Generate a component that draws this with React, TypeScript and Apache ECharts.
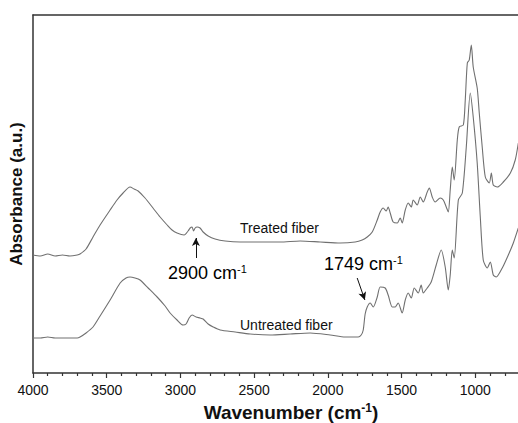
import React, { useEffect, useRef } from "react";
import * as echarts from "echarts";

// Wavenumber (cm-1) and absorbance (a.u.)
const treatedWn = [4000,3950,3900,3850,3800,3750,3700,3681,3640,3593,3545,3477,3430,3389,3342,3314,3287,3240,3186,3138,3090,3057,3023,2975,2948,2934,2921,2911,2900,2887,2867,2846,2812,2765,2697,2595,2459,2324,2188,2052,1916,1815,1767,1733,1699,1665,1645,1625,1604,1591,1577,1557,1529,1509,1496,1475,1455,1434,1421,1394,1373,1353,1326,1312,1292,1272,1238,1217,1197,1183,1170,1156,1143,1122,1109,1081,1068,1054,1041,1027,1014,987,973,953,932,905,891,878,851,810,762,729,708];
const treatedAbs = [118,117,119,117,118,117,118,119,124,136,148,163,173,180,186,184,182,175,165,156,148,143,140,138,142,145,146,142,145,146,145,141,137,134,132,131,131,131,132,131,130,131,133,136,141,153,161,165,162,166,160,151,150,155,150,163,170,166,173,168,176,171,181,185,176,171,175,173,166,161,183,206,193,233,246,248,273,310,313,328,306,285,260,226,196,190,200,188,186,191,200,213,230];

const untreatedWn = [4000,3950,3900,3850,3800,3750,3700,3681,3640,3593,3545,3477,3409,3369,3342,3308,3274,3219,3158,3104,3070,3023,2982,2962,2941,2921,2894,2867,2846,2812,2778,2731,2629,2527,2391,2256,2120,1984,1882,1794,1774,1760,1747,1733,1713,1692,1665,1645,1611,1591,1563,1543,1523,1496,1475,1455,1434,1414,1387,1367,1353,1326,1299,1265,1231,1204,1183,1170,1156,1143,1115,1088,1061,1034,1014,987,966,946,919,898,878,858,817,776,742,708];
const untreatedAbs = [35,35,36,35,35,35,35,36,40,46,57,73,90,95,96,95,93,85,76,67,60,53,48,49,55,58,56,55,54,49,46,43,41,39,38,39,40,38,36,36,38,43,59,66,70,66,76,86,85,78,66,66,70,60,73,80,75,85,80,88,80,85,91,108,123,106,83,98,123,115,173,180,226,280,256,210,156,113,105,111,98,96,105,118,130,145];

const xTicks = { min: 500, max: 4000, interval: 500 };
const tickLabels = ["1000", "1500", "2000", "2500", "3000", "3500", "4000"];
const yRange = { min: 0, max: 358 };

const zip = (xs: number[], ys: number[]) => xs.map((x, i) => [x, ys[i]]);

const FONT = "Arial, 'Liberation Sans', sans-serif";
const AXIS_COLOR = "#333";
const LINE_COLOR = "#707070";

export default function App() {
  const ref = useRef<HTMLDivElement>(null);
  useEffect(() => {
    if (!ref.current) return;
    const chart = echarts.init(ref.current, null, { renderer: "svg" });
    const supRich = {
      a: { fontSize: 18, fontFamily: FONT, color: "#111", lineHeight: 20 },
      s: { fontSize: 11, fontFamily: FONT, color: "#111", verticalAlign: "top" as const, lineHeight: 20 },
    };
    chart.setOption({
      animation: false,
      backgroundColor: "#fff",
      grid: { left: 33, width: 516, top: 15, bottom: 50, outerBoundsMode: "none" },
      xAxis: [
        {
          type: "value",
          inverse: true,
          min: xTicks.min,
          max: xTicks.max,
          interval: xTicks.interval,
          position: "bottom",
          axisLine: { show: true, lineStyle: { color: AXIS_COLOR, width: 1.5 } },
          axisTick: { show: true, inside: false, length: 5, lineStyle: { color: AXIS_COLOR, width: 1.2 } },
          minorTick: { show: true, splitNumber: 5, length: 3, lineStyle: { color: AXIS_COLOR, width: 1.2 } },
          splitLine: { show: false },
          axisLabel: {
            color: "#111",
            fontSize: 14,
            fontFamily: FONT,
            margin: 10,
            showMinLabel: false,
            formatter: (v: number) => (tickLabels.includes(String(v)) ? String(v) : ""),
          },
          name: "{b|Wavenumber (cm}{t|-1}{b|)}",
          nameLocation: "middle",
          nameGap: 26,
          nameTextStyle: {
            rich: {
              b: { fontSize: 19, fontWeight: "bold", fontFamily: FONT, color: "#111", lineHeight: 22 },
              t: { fontSize: 12, fontWeight: "bold", fontFamily: FONT, color: "#111", verticalAlign: "top", lineHeight: 22 },
            },
          },
        },
        {
          type: "value",
          inverse: true,
          min: xTicks.min,
          max: xTicks.max,
          position: "top",
          axisLine: { show: true, onZero: false, lineStyle: { color: AXIS_COLOR, width: 1.5 } },
          axisTick: { show: false },
          axisLabel: { show: false },
          splitLine: { show: false },
        },
      ],
      yAxis: {
        type: "value",
        min: yRange.min,
        max: yRange.max,
        axisLine: { show: true, lineStyle: { color: AXIS_COLOR, width: 1.5 } },
        axisTick: { show: false },
        axisLabel: { show: false },
        splitLine: { show: false },
        name: "Absorbance (a.u.)",
        nameLocation: "middle",
        nameGap: 8,
        nameRotate: 90,
        nameTextStyle: { fontSize: 17, fontWeight: "bold", fontFamily: FONT, color: "#111" },
      },
      series: [
        {
          name: "Treated fiber",
          type: "line",
          data: zip(treatedWn, treatedAbs),
          showSymbol: false,
          smooth: 0.25,
          lineStyle: { color: LINE_COLOR, width: 1.1 },
          silent: true,
          markLine: {
            silent: true,
            symbol: ["none", "arrow"],
            symbolSize: [6, 8],
            label: { show: false },
            lineStyle: { color: "#111", width: 1, type: "solid" },
            data: [[{ coord: [2895, 115] }, { coord: [2895, 135] }]],
          },
        },
        {
          name: "Untreated fiber",
          type: "line",
          data: zip(untreatedWn, untreatedAbs),
          showSymbol: false,
          smooth: 0.25,
          lineStyle: { color: LINE_COLOR, width: 1.1 },
          silent: true,
          markLine: {
            silent: true,
            symbol: ["none", "arrow"],
            symbolSize: [6, 8],
            label: { show: false },
            lineStyle: { color: "#111", width: 1, type: "solid" },
            data: [[{ coord: [1801, 95] }, { coord: [1749, 73] }]],
          },
        },
      ],
      graphic: [
        {
          type: "text",
          x: 240,
          y: 228,
          style: { text: "Treated fiber", font: `14px ${FONT}`, fill: "#111", verticalAlign: "middle" },
        },
        {
          type: "text",
          x: 240,
          y: 325,
          style: { text: "Untreated fiber", font: `14px ${FONT}`, fill: "#111", verticalAlign: "middle" },
        },
        {
          type: "text",
          x: 168,
          y: 273,
          style: { text: "{a|2900 cm}{s|-1}", rich: supRich, verticalAlign: "middle" },
        },
        {
          type: "text",
          x: 324,
          y: 264,
          style: { text: "{a|1749 cm}{s|-1}", rich: supRich, verticalAlign: "middle" },
        },
      ],
    });
    return () => chart.dispose();
  }, []);
  return <div ref={ref} style={{ width: 518, height: 423, position: "absolute", left: 0, top: 0 }} />;
}
